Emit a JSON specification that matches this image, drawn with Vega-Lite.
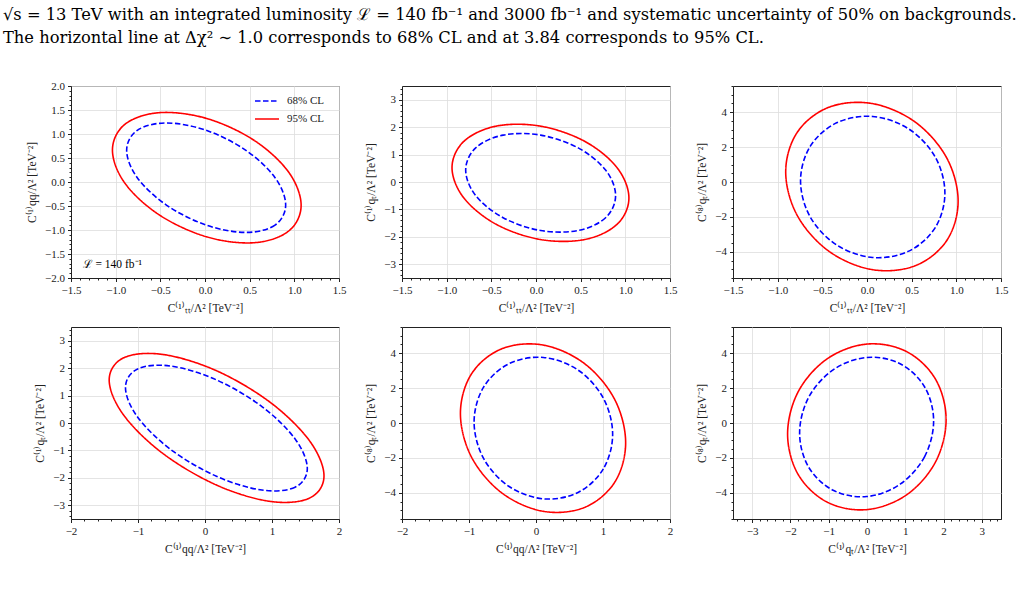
{
"$schema": "https://vega.github.io/schema/vega-lite/v6.json",
"padding": {"left": 3, "top": 7, "right": 0, "bottom": 0},
"title": {"text": ["√s = 13 TeV with an integrated luminosity ℒ = 140 fb⁻¹ and 3000 fb⁻¹ and systematic uncertainty of 50% on backgrounds.", "The horizontal line at Δχ² ∼ 1.0 corresponds to 68% CL and at 3.84 corresponds to 95% CL."], "anchor": "start", "frame": "group", "dx": -68, "font": "DejaVu Serif", "fontSize": 16.3, "fontWeight": "normal", "color": "#000", "lineHeight": 23, "offset": 33},
"config": {
  "font": "Liberation Serif",
  "view": {"stroke": "#222", "strokeWidth": 1},
  "axis": {"labelFont": "Liberation Serif", "labelFontSize": 11, "labelColor": "#222", "titleFont": "Liberation Serif", "titleFontSize": 11.5, "titleFontWeight": "normal", "titleColor": "#222", "domainColor": "#222", "tickColor": "#222", "gridColor": "#dddddd", "gridWidth": 0.8, "labelOverlap": false, "labelFlush": false, "labelPadding": 3, "titlePadding": 7},
  "legend": {"labelFont": "Liberation Serif", "labelFontSize": 11, "labelColor": "#222"}
},
"datasets": {"c": [
{"p":1,"cl":"95% CL","i":0,"x":1.076,"y":-0.485},{"p":1,"cl":"95% CL","i":1,"x":0.935,"y":-1.024},{"p":1,"cl":"95% CL","i":2,"x":0.548,"y":-1.265},{"p":1,"cl":"95% CL","i":3,"x":0.02,"y":-1.143},{"p":1,"cl":"95% CL","i":4,"x":-0.508,"y":-0.69},{"p":1,"cl":"95% CL","i":5,"x":-0.895,"y":-0.029},{"p":1,"cl":"95% CL","i":6,"x":-1.036,"y":0.665},{"p":1,"cl":"95% CL","i":7,"x":-0.895,"y":1.204},{"p":1,"cl":"95% CL","i":8,"x":-0.508,"y":1.445},{"p":1,"cl":"95% CL","i":9,"x":0.02,"y":1.323},{"p":1,"cl":"95% CL","i":10,"x":0.548,"y":0.87},{"p":1,"cl":"95% CL","i":11,"x":0.935,"y":0.209},
{"p":1,"cl":"68% CL","i":0,"x":0.903,"y":-0.48},{"p":1,"cl":"68% CL","i":1,"x":0.784,"y":-0.897},{"p":1,"cl":"68% CL","i":2,"x":0.458,"y":-1.05},{"p":1,"cl":"68% CL","i":3,"x":0.013,"y":-0.897},{"p":1,"cl":"68% CL","i":4,"x":-0.432,"y":-0.48},{"p":1,"cl":"68% CL","i":5,"x":-0.758,"y":0.09},{"p":1,"cl":"68% CL","i":6,"x":-0.877,"y":0.66},{"p":1,"cl":"68% CL","i":7,"x":-0.758,"y":1.077},{"p":1,"cl":"68% CL","i":8,"x":-0.432,"y":1.23},{"p":1,"cl":"68% CL","i":9,"x":0.013,"y":1.077},{"p":1,"cl":"68% CL","i":10,"x":0.458,"y":0.66},{"p":1,"cl":"68% CL","i":11,"x":0.784,"y":0.09},
{"p":2,"cl":"95% CL","i":0,"x":1.04,"y":-0.584},{"p":2,"cl":"95% CL","i":1,"x":0.907,"y":-1.543},{"p":2,"cl":"95% CL","i":2,"x":0.545,"y":-2.097},{"p":2,"cl":"95% CL","i":3,"x":0.05,"y":-2.097},{"p":2,"cl":"95% CL","i":4,"x":-0.445,"y":-1.543},{"p":2,"cl":"95% CL","i":5,"x":-0.807,"y":-0.584},{"p":2,"cl":"95% CL","i":6,"x":-0.94,"y":0.524},{"p":2,"cl":"95% CL","i":7,"x":-0.807,"y":1.483},{"p":2,"cl":"95% CL","i":8,"x":-0.445,"y":2.037},{"p":2,"cl":"95% CL","i":9,"x":0.05,"y":2.037},{"p":2,"cl":"95% CL","i":10,"x":0.545,"y":1.483},{"p":2,"cl":"95% CL","i":11,"x":0.907,"y":0.524},
{"p":2,"cl":"68% CL","i":0,"x":0.891,"y":-0.496},{"p":2,"cl":"68% CL","i":1,"x":0.779,"y":-1.303},{"p":2,"cl":"68% CL","i":2,"x":0.472,"y":-1.769},{"p":2,"cl":"68% CL","i":3,"x":0.052,"y":-1.769},{"p":2,"cl":"68% CL","i":4,"x":-0.368,"y":-1.303},{"p":2,"cl":"68% CL","i":5,"x":-0.675,"y":-0.496},{"p":2,"cl":"68% CL","i":6,"x":-0.787,"y":0.436},{"p":2,"cl":"68% CL","i":7,"x":-0.675,"y":1.243},{"p":2,"cl":"68% CL","i":8,"x":-0.368,"y":1.709},{"p":2,"cl":"68% CL","i":9,"x":0.052,"y":1.709},{"p":2,"cl":"68% CL","i":10,"x":0.472,"y":1.243},{"p":2,"cl":"68% CL","i":11,"x":0.779,"y":0.436},
{"p":3,"cl":"95% CL","i":0,"x":1.02,"y":-1.099},{"p":3,"cl":"95% CL","i":1,"x":0.891,"y":-3.365},{"p":3,"cl":"95% CL","i":2,"x":0.538,"y":-4.799},{"p":3,"cl":"95% CL","i":3,"x":0.055,"y":-5.017},{"p":3,"cl":"95% CL","i":4,"x":-0.428,"y":-3.96},{"p":3,"cl":"95% CL","i":5,"x":-0.781,"y":-1.912},{"p":3,"cl":"95% CL","i":6,"x":-0.91,"y":0.579},{"p":3,"cl":"95% CL","i":7,"x":-0.781,"y":2.845},{"p":3,"cl":"95% CL","i":8,"x":-0.428,"y":4.279},{"p":3,"cl":"95% CL","i":9,"x":0.055,"y":4.497},{"p":3,"cl":"95% CL","i":10,"x":0.538,"y":3.44},{"p":3,"cl":"95% CL","i":11,"x":0.891,"y":1.392},
{"p":3,"cl":"68% CL","i":0,"x":0.872,"y":-0.639},{"p":3,"cl":"68% CL","i":1,"x":0.764,"y":-2.611},{"p":3,"cl":"68% CL","i":2,"x":0.468,"y":-3.96},{"p":3,"cl":"68% CL","i":3,"x":0.064,"y":-4.325},{"p":3,"cl":"68% CL","i":4,"x":-0.34,"y":-3.607},{"p":3,"cl":"68% CL","i":5,"x":-0.636,"y":-1.999},{"p":3,"cl":"68% CL","i":6,"x":-0.744,"y":0.069},{"p":3,"cl":"68% CL","i":7,"x":-0.636,"y":2.041},{"p":3,"cl":"68% CL","i":8,"x":-0.34,"y":3.39},{"p":3,"cl":"68% CL","i":9,"x":0.064,"y":3.755},{"p":3,"cl":"68% CL","i":10,"x":0.468,"y":3.037},{"p":3,"cl":"68% CL","i":11,"x":0.764,"y":1.429},
{"p":4,"cl":"95% CL","i":0,"x":1.776,"y":-1.928},{"p":4,"cl":"95% CL","i":1,"x":1.561,"y":-2.736},{"p":4,"cl":"95% CL","i":2,"x":0.975,"y":-2.859},{"p":4,"cl":"95% CL","i":3,"x":0.173,"y":-2.264},{"p":4,"cl":"95% CL","i":4,"x":-0.629,"y":-1.11},{"p":4,"cl":"95% CL","i":5,"x":-1.215,"y":0.292},{"p":4,"cl":"95% CL","i":6,"x":-1.43,"y":1.568},{"p":4,"cl":"95% CL","i":7,"x":-1.215,"y":2.376},{"p":4,"cl":"95% CL","i":8,"x":-0.629,"y":2.499},{"p":4,"cl":"95% CL","i":9,"x":0.173,"y":1.904},{"p":4,"cl":"95% CL","i":10,"x":0.975,"y":0.75},{"p":4,"cl":"95% CL","i":11,"x":1.561,"y":-0.652},
{"p":4,"cl":"68% CL","i":0,"x":1.527,"y":-1.66},{"p":4,"cl":"68% CL","i":1,"x":1.345,"y":-2.342},{"p":4,"cl":"68% CL","i":2,"x":0.849,"y":-2.445},{"p":4,"cl":"68% CL","i":3,"x":0.17,"y":-1.943},{"p":4,"cl":"68% CL","i":4,"x":-0.509,"y":-0.97},{"p":4,"cl":"68% CL","i":5,"x":-1.005,"y":0.213},{"p":4,"cl":"68% CL","i":6,"x":-1.187,"y":1.29},{"p":4,"cl":"68% CL","i":7,"x":-1.005,"y":1.972},{"p":4,"cl":"68% CL","i":8,"x":-0.509,"y":2.075},{"p":4,"cl":"68% CL","i":9,"x":0.17,"y":1.573},{"p":4,"cl":"68% CL","i":10,"x":0.849,"y":0.6},{"p":4,"cl":"68% CL","i":11,"x":1.345,"y":-0.583},
{"p":5,"cl":"95% CL","i":0,"x":1.338,"y":-1.134},{"p":5,"cl":"95% CL","i":1,"x":1.173,"y":-3.403},{"p":5,"cl":"95% CL","i":2,"x":0.722,"y":-4.839},{"p":5,"cl":"95% CL","i":3,"x":0.105,"y":-5.057},{"p":5,"cl":"95% CL","i":4,"x":-0.512,"y":-3.999},{"p":5,"cl":"95% CL","i":5,"x":-0.963,"y":-1.949},{"p":5,"cl":"95% CL","i":6,"x":-1.128,"y":0.544},{"p":5,"cl":"95% CL","i":7,"x":-0.963,"y":2.813},{"p":5,"cl":"95% CL","i":8,"x":-0.512,"y":4.249},{"p":5,"cl":"95% CL","i":9,"x":0.105,"y":4.467},{"p":5,"cl":"95% CL","i":10,"x":0.722,"y":3.409},{"p":5,"cl":"95% CL","i":11,"x":1.173,"y":1.359},
{"p":5,"cl":"68% CL","i":0,"x":1.144,"y":-0.649},{"p":5,"cl":"68% CL","i":1,"x":1.005,"y":-2.627},{"p":5,"cl":"68% CL","i":2,"x":0.627,"y":-3.979},{"p":5,"cl":"68% CL","i":3,"x":0.11,"y":-4.345},{"p":5,"cl":"68% CL","i":4,"x":-0.407,"y":-3.625},{"p":5,"cl":"68% CL","i":5,"x":-0.785,"y":-2.013},{"p":5,"cl":"68% CL","i":6,"x":-0.924,"y":0.059},{"p":5,"cl":"68% CL","i":7,"x":-0.785,"y":2.037},{"p":5,"cl":"68% CL","i":8,"x":-0.407,"y":3.389},{"p":5,"cl":"68% CL","i":9,"x":0.11,"y":3.755},{"p":5,"cl":"68% CL","i":10,"x":0.627,"y":3.035},{"p":5,"cl":"68% CL","i":11,"x":1.005,"y":1.423},
{"p":6,"cl":"95% CL","i":0,"x":2.066,"y":0.195},{"p":6,"cl":"95% CL","i":1,"x":1.789,"y":-2.232},{"p":6,"cl":"95% CL","i":2,"x":1.031,"y":-4.119},{"p":6,"cl":"95% CL","i":3,"x":-0.004,"y":-4.962},{"p":6,"cl":"95% CL","i":4,"x":-1.039,"y":-4.534},{"p":6,"cl":"95% CL","i":5,"x":-1.797,"y":-2.95},{"p":6,"cl":"95% CL","i":6,"x":-2.074,"y":-0.635},{"p":6,"cl":"95% CL","i":7,"x":-1.797,"y":1.792},{"p":6,"cl":"95% CL","i":8,"x":-1.039,"y":3.679},{"p":6,"cl":"95% CL","i":9,"x":-0.004,"y":4.522},{"p":6,"cl":"95% CL","i":10,"x":1.031,"y":4.094},{"p":6,"cl":"95% CL","i":11,"x":1.789,"y":2.51},
{"p":6,"cl":"68% CL","i":0,"x":1.74,"y":0.119},{"p":6,"cl":"68% CL","i":1,"x":1.506,"y":-1.92},{"p":6,"cl":"68% CL","i":2,"x":0.865,"y":-3.507},{"p":6,"cl":"68% CL","i":3,"x":-0.01,"y":-4.215},{"p":6,"cl":"68% CL","i":4,"x":-0.885,"y":-3.855},{"p":6,"cl":"68% CL","i":5,"x":-1.526,"y":-2.524},{"p":6,"cl":"68% CL","i":6,"x":-1.76,"y":-0.579},{"p":6,"cl":"68% CL","i":7,"x":-1.526,"y":1.46},{"p":6,"cl":"68% CL","i":8,"x":-0.885,"y":3.047},{"p":6,"cl":"68% CL","i":9,"x":-0.01,"y":3.755},{"p":6,"cl":"68% CL","i":10,"x":0.865,"y":3.395},{"p":6,"cl":"68% CL","i":11,"x":1.506,"y":2.064}
]},
"columns": 3,
"spacing": {"row": 49, "column": 63},
"bounds": "flush",
"resolve": {"scale": {"color": "independent", "strokeDash": "independent"}, "legend": {"color": "independent", "strokeDash": "independent"}},
"concat": [
{"width": 268, "height": 192,
 "resolve": {"axis": {"x": "independent", "y": "independent"}},
 "layer": [
 {"data": {"name": "c"}, "transform": [{"filter": "datum.p == 1"}],
  "mark": {"type": "line", "interpolate": "cardinal-closed", "strokeWidth": 1.6},
  "encoding": {
   "x": {"field": "x", "type": "quantitative", "scale": {"domain": [-1.5, 1.5], "nice": false, "zero": false},
     "axis": {"orient": "bottom", "title": "C⁽¹⁾ₜₜ/Λ² [TeV⁻²]", "format": ".1f", "values": [-1.5,-1.4,-1.3,-1.2,-1.1,-1,-0.9,-0.8,-0.7,-0.6,-0.5,-0.4,-0.3,-0.2,-0.1,0,0.1,0.2,0.3,0.4,0.5,0.6,0.7,0.8,0.9,1,1.1,1.2,1.3,1.4,1.5],
       "labelExpr": "abs(datum.value*2-round(datum.value*2))<0.001 ? datum.label : ''",
       "tickSize": {"condition": {"test": "abs(datum.value*2-round(datum.value*2))<0.001", "value": 3.5}, "value": 2},
       "gridOpacity": {"condition": {"test": "abs(datum.value*2-round(datum.value*2))<0.001", "value": 1}, "value": 0}}},
   "y": {"field": "y", "type": "quantitative", "scale": {"domain": [-2, 2], "nice": false, "zero": false},
     "axis": {"orient": "left", "title": "C⁽¹⁾qq/Λ² [TeV⁻²]", "format": ".1f", "values": [-2,-1.9,-1.8,-1.7,-1.6,-1.5,-1.4,-1.3,-1.2,-1.1,-1,-0.9,-0.8,-0.7,-0.6,-0.5,-0.4,-0.3,-0.2,-0.1,0,0.1,0.2,0.3,0.4,0.5,0.6,0.7,0.8,0.9,1,1.1,1.2,1.3,1.4,1.5,1.6,1.7,1.8,1.9,2],
       "labelExpr": "abs(datum.value*2-round(datum.value*2))<0.001 ? datum.label : ''",
       "tickSize": {"condition": {"test": "abs(datum.value*2-round(datum.value*2))<0.001", "value": 3.5}, "value": 2},
       "gridOpacity": {"condition": {"test": "abs(datum.value*2-round(datum.value*2))<0.001", "value": 1}, "value": 0}}},
   "order": {"field": "i", "type": "quantitative"},
   "color": {"field": "cl", "type": "nominal", "scale": {"domain": ["68% CL", "95% CL"], "range": ["#0000ff", "#ff0000"]},
     "legend": {"title": null, "orient": "none", "legendX": 183, "legendY": 2, "padding": 0, "symbolType": "stroke", "symbolSize": 576, "symbolStrokeWidth": 1.6, "rowPadding": -7, "labelOffset": 7}},
   "strokeDash": {"field": "cl", "type": "nominal", "scale": {"domain": ["68% CL", "95% CL"], "range": [[5.5, 2.5], [1, 0]]},
     "legend": {"title": null, "orient": "none", "legendX": 183, "legendY": 2, "padding": 0, "symbolType": "stroke", "symbolSize": 576, "symbolStrokeWidth": 1.6, "rowPadding": -7, "labelOffset": 7}}
  }},
 {"data": {"values": [{}]},
  "mark": {"type": "text", "align": "left", "baseline": "alphabetic", "font": "Liberation Serif", "fontSize": 11.5, "color": "#000"},
  "encoding": {"x": {"datum": -1.37, "type": "quantitative", "axis": null}, "y": {"datum": -1.79, "type": "quantitative", "axis": null}, "text": {"value": "ℒ = 140 fb⁻¹"}}}
 ]},
{"width": 268, "height": 192,
 "data": {"name": "c"}, "transform": [{"filter": "datum.p == 2"}],
 "mark": {"type": "line", "interpolate": "cardinal-closed", "strokeWidth": 1.6},
 "encoding": {
   "x": {"field": "x", "type": "quantitative", "scale": {"domain": [-1.5, 1.5], "nice": false, "zero": false},
     "axis": {"title": "C⁽¹⁾ₜₜ/Λ² [TeV⁻²]", "format": ".1f", "values": [-1.5,-1.4,-1.3,-1.2,-1.1,-1,-0.9,-0.8,-0.7,-0.6,-0.5,-0.4,-0.3,-0.2,-0.1,0,0.1,0.2,0.3,0.4,0.5,0.6,0.7,0.8,0.9,1,1.1,1.2,1.3,1.4,1.5],
       "labelExpr": "abs(datum.value*2-round(datum.value*2))<0.001 ? datum.label : ''",
       "tickSize": {"condition": {"test": "abs(datum.value*2-round(datum.value*2))<0.001", "value": 3.5}, "value": 2},
       "gridOpacity": {"condition": {"test": "abs(datum.value*2-round(datum.value*2))<0.001", "value": 1}, "value": 0}}},
   "y": {"field": "y", "type": "quantitative", "scale": {"domain": [-3.5, 3.5], "nice": false, "zero": false},
     "axis": {"title": "C⁽¹⁾qₜ/Λ² [TeV⁻²]", "format": ".0f", "values": [-3.4,-3.2,-3,-2.8,-2.6,-2.4,-2.2,-2,-1.8,-1.6,-1.4,-1.2,-1,-0.8,-0.6,-0.4,-0.2,0,0.2,0.4,0.6,0.8,1,1.2,1.4,1.6,1.8,2,2.2,2.4,2.6,2.8,3,3.2,3.4],
       "labelExpr": "abs(datum.value-round(datum.value))<0.001 ? datum.label : ''",
       "tickSize": {"condition": {"test": "abs(datum.value-round(datum.value))<0.001", "value": 3.5}, "value": 2},
       "gridOpacity": {"condition": {"test": "abs(datum.value-round(datum.value))<0.001", "value": 1}, "value": 0}}},
   "order": {"field": "i", "type": "quantitative"},
   "color": {"field": "cl", "type": "nominal", "scale": {"domain": ["68% CL", "95% CL"], "range": ["#0000ff", "#ff0000"]}, "legend": null},
   "strokeDash": {"field": "cl", "type": "nominal", "scale": {"domain": ["68% CL", "95% CL"], "range": [[5.5, 2.5], [1, 0]]}, "legend": null}
 }},
{"width": 268, "height": 192,
 "data": {"name": "c"}, "transform": [{"filter": "datum.p == 3"}],
 "mark": {"type": "line", "interpolate": "cardinal-closed", "strokeWidth": 1.6},
 "encoding": {
   "x": {"field": "x", "type": "quantitative", "scale": {"domain": [-1.5, 1.5], "nice": false, "zero": false},
     "axis": {"title": "C⁽¹⁾ₜₜ/Λ² [TeV⁻²]", "format": ".1f", "values": [-1.5,-1.4,-1.3,-1.2,-1.1,-1,-0.9,-0.8,-0.7,-0.6,-0.5,-0.4,-0.3,-0.2,-0.1,0,0.1,0.2,0.3,0.4,0.5,0.6,0.7,0.8,0.9,1,1.1,1.2,1.3,1.4,1.5],
       "labelExpr": "abs(datum.value*2-round(datum.value*2))<0.001 ? datum.label : ''",
       "tickSize": {"condition": {"test": "abs(datum.value*2-round(datum.value*2))<0.001", "value": 3.5}, "value": 2},
       "gridOpacity": {"condition": {"test": "abs(datum.value*2-round(datum.value*2))<0.001", "value": 1}, "value": 0}}},
   "y": {"field": "y", "type": "quantitative", "scale": {"domain": [-5.5, 5.5], "nice": false, "zero": false},
     "axis": {"title": "C⁽⁸⁾qₜ/Λ² [TeV⁻²]", "format": ".0f", "values": [-5.5,-5,-4.5,-4,-3.5,-3,-2.5,-2,-1.5,-1,-0.5,0,0.5,1,1.5,2,2.5,3,3.5,4,4.5,5,5.5],
       "labelExpr": "abs(datum.value/2-round(datum.value/2))<0.001 ? datum.label : ''",
       "tickSize": {"condition": {"test": "abs(datum.value/2-round(datum.value/2))<0.001", "value": 3.5}, "value": 2},
       "gridOpacity": {"condition": {"test": "abs(datum.value/2-round(datum.value/2))<0.001", "value": 1}, "value": 0}}},
   "order": {"field": "i", "type": "quantitative"},
   "color": {"field": "cl", "type": "nominal", "scale": {"domain": ["68% CL", "95% CL"], "range": ["#0000ff", "#ff0000"]}, "legend": null},
   "strokeDash": {"field": "cl", "type": "nominal", "scale": {"domain": ["68% CL", "95% CL"], "range": [[5.5, 2.5], [1, 0]]}, "legend": null}
 }},
{"width": 268, "height": 192,
 "data": {"name": "c"}, "transform": [{"filter": "datum.p == 4"}],
 "mark": {"type": "line", "interpolate": "cardinal-closed", "strokeWidth": 1.6},
 "encoding": {
   "x": {"field": "x", "type": "quantitative", "scale": {"domain": [-2, 2], "nice": false, "zero": false},
     "axis": {"title": "C⁽¹⁾qq/Λ² [TeV⁻²]", "format": ".0f", "values": [-2,-1.8,-1.6,-1.4,-1.2,-1,-0.8,-0.6,-0.4,-0.2,0,0.2,0.4,0.6,0.8,1,1.2,1.4,1.6,1.8,2],
       "labelExpr": "abs(datum.value-round(datum.value))<0.001 ? datum.label : ''",
       "tickSize": {"condition": {"test": "abs(datum.value-round(datum.value))<0.001", "value": 3.5}, "value": 2},
       "gridOpacity": {"condition": {"test": "abs(datum.value-round(datum.value))<0.001", "value": 1}, "value": 0}}},
   "y": {"field": "y", "type": "quantitative", "scale": {"domain": [-3.5, 3.5], "nice": false, "zero": false},
     "axis": {"title": "C⁽¹⁾qₜ/Λ² [TeV⁻²]", "format": ".0f", "values": [-3.4,-3.2,-3,-2.8,-2.6,-2.4,-2.2,-2,-1.8,-1.6,-1.4,-1.2,-1,-0.8,-0.6,-0.4,-0.2,0,0.2,0.4,0.6,0.8,1,1.2,1.4,1.6,1.8,2,2.2,2.4,2.6,2.8,3,3.2,3.4],
       "labelExpr": "abs(datum.value-round(datum.value))<0.001 ? datum.label : ''",
       "tickSize": {"condition": {"test": "abs(datum.value-round(datum.value))<0.001", "value": 3.5}, "value": 2},
       "gridOpacity": {"condition": {"test": "abs(datum.value-round(datum.value))<0.001", "value": 1}, "value": 0}}},
   "order": {"field": "i", "type": "quantitative"},
   "color": {"field": "cl", "type": "nominal", "scale": {"domain": ["68% CL", "95% CL"], "range": ["#0000ff", "#ff0000"]}, "legend": null},
   "strokeDash": {"field": "cl", "type": "nominal", "scale": {"domain": ["68% CL", "95% CL"], "range": [[5.5, 2.5], [1, 0]]}, "legend": null}
 }},
{"width": 268, "height": 192,
 "data": {"name": "c"}, "transform": [{"filter": "datum.p == 5"}],
 "mark": {"type": "line", "interpolate": "cardinal-closed", "strokeWidth": 1.6},
 "encoding": {
   "x": {"field": "x", "type": "quantitative", "scale": {"domain": [-2, 2], "nice": false, "zero": false},
     "axis": {"title": "C⁽¹⁾qq/Λ² [TeV⁻²]", "format": ".0f", "values": [-2,-1.8,-1.6,-1.4,-1.2,-1,-0.8,-0.6,-0.4,-0.2,0,0.2,0.4,0.6,0.8,1,1.2,1.4,1.6,1.8,2],
       "labelExpr": "abs(datum.value-round(datum.value))<0.001 ? datum.label : ''",
       "tickSize": {"condition": {"test": "abs(datum.value-round(datum.value))<0.001", "value": 3.5}, "value": 2},
       "gridOpacity": {"condition": {"test": "abs(datum.value-round(datum.value))<0.001", "value": 1}, "value": 0}}},
   "y": {"field": "y", "type": "quantitative", "scale": {"domain": [-5.5, 5.5], "nice": false, "zero": false},
     "axis": {"title": "C⁽⁸⁾qₜ/Λ² [TeV⁻²]", "format": ".0f", "values": [-5.5,-5,-4.5,-4,-3.5,-3,-2.5,-2,-1.5,-1,-0.5,0,0.5,1,1.5,2,2.5,3,3.5,4,4.5,5,5.5],
       "labelExpr": "abs(datum.value/2-round(datum.value/2))<0.001 ? datum.label : ''",
       "tickSize": {"condition": {"test": "abs(datum.value/2-round(datum.value/2))<0.001", "value": 3.5}, "value": 2},
       "gridOpacity": {"condition": {"test": "abs(datum.value/2-round(datum.value/2))<0.001", "value": 1}, "value": 0}}},
   "order": {"field": "i", "type": "quantitative"},
   "color": {"field": "cl", "type": "nominal", "scale": {"domain": ["68% CL", "95% CL"], "range": ["#0000ff", "#ff0000"]}, "legend": null},
   "strokeDash": {"field": "cl", "type": "nominal", "scale": {"domain": ["68% CL", "95% CL"], "range": [[5.5, 2.5], [1, 0]]}, "legend": null}
 }},
{"width": 268, "height": 192,
 "data": {"name": "c"}, "transform": [{"filter": "datum.p == 6"}],
 "mark": {"type": "line", "interpolate": "cardinal-closed", "strokeWidth": 1.6},
 "encoding": {
   "x": {"field": "x", "type": "quantitative", "scale": {"domain": [-3.5, 3.5], "nice": false, "zero": false},
     "axis": {"title": "C⁽¹⁾qₜ/Λ² [TeV⁻²]", "format": ".0f", "values": [-3.4,-3.2,-3,-2.8,-2.6,-2.4,-2.2,-2,-1.8,-1.6,-1.4,-1.2,-1,-0.8,-0.6,-0.4,-0.2,0,0.2,0.4,0.6,0.8,1,1.2,1.4,1.6,1.8,2,2.2,2.4,2.6,2.8,3,3.2,3.4],
       "labelExpr": "abs(datum.value-round(datum.value))<0.001 ? datum.label : ''",
       "tickSize": {"condition": {"test": "abs(datum.value-round(datum.value))<0.001", "value": 3.5}, "value": 2},
       "gridOpacity": {"condition": {"test": "abs(datum.value-round(datum.value))<0.001", "value": 1}, "value": 0}}},
   "y": {"field": "y", "type": "quantitative", "scale": {"domain": [-5.5, 5.5], "nice": false, "zero": false},
     "axis": {"title": "C⁽⁸⁾qₜ/Λ² [TeV⁻²]", "format": ".0f", "values": [-5.5,-5,-4.5,-4,-3.5,-3,-2.5,-2,-1.5,-1,-0.5,0,0.5,1,1.5,2,2.5,3,3.5,4,4.5,5,5.5],
       "labelExpr": "abs(datum.value/2-round(datum.value/2))<0.001 ? datum.label : ''",
       "tickSize": {"condition": {"test": "abs(datum.value/2-round(datum.value/2))<0.001", "value": 3.5}, "value": 2},
       "gridOpacity": {"condition": {"test": "abs(datum.value/2-round(datum.value/2))<0.001", "value": 1}, "value": 0}}},
   "order": {"field": "i", "type": "quantitative"},
   "color": {"field": "cl", "type": "nominal", "scale": {"domain": ["68% CL", "95% CL"], "range": ["#0000ff", "#ff0000"]}, "legend": null},
   "strokeDash": {"field": "cl", "type": "nominal", "scale": {"domain": ["68% CL", "95% CL"], "range": [[5.5, 2.5], [1, 0]]}, "legend": null}
 }}
]
}
